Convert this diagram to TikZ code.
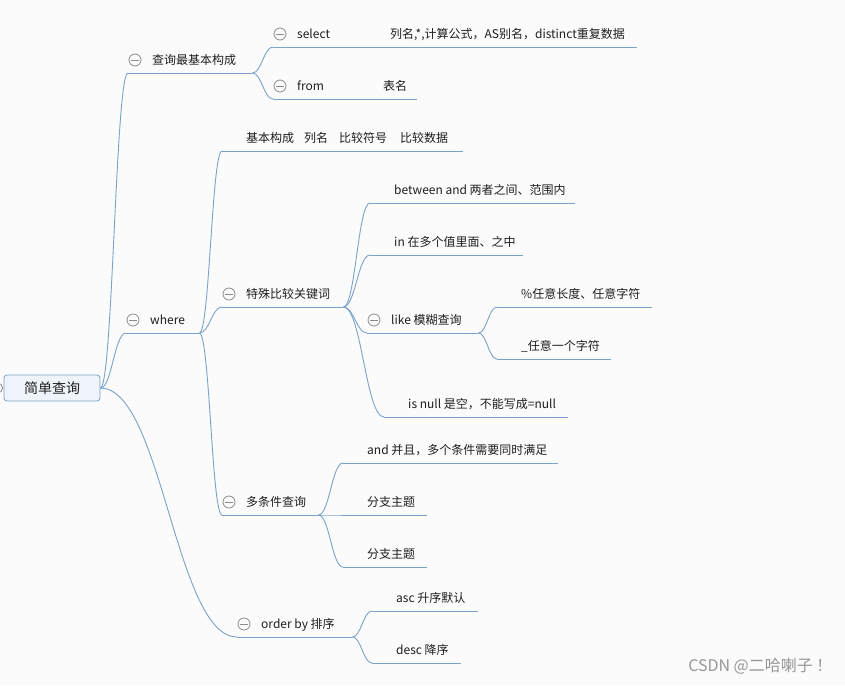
\documentclass[tikz,border=0pt]{standalone}
\usepackage{fontspec}
\setmainfont{Noto Sans CJK SC}
\usetikzlibrary{calc}

\definecolor{bgcol}{RGB}{251,251,251}
\definecolor{linecol}{RGB}{122,163,201}
\definecolor{iconcol}{RGB}{140,140,140}
\definecolor{rootfill}{RGB}{238,244,249}
\definecolor{rootline}{RGB}{122,160,196}
\definecolor{txtcol}{RGB}{30,30,30}
\definecolor{wmcol}{RGB}{150,150,150}

% topic text: fixed width, text starts after the icon gap
\newcommand{\tpc}[2]{\makebox[#1][l]{\hspace*{24pt}#2}}

\tikzset{
  topic/.style={anchor=south west, inner xsep=0pt, inner ysep=8.5pt, text depth=0pt,
    font=\fontsize{12pt}{14pt}\selectfont, text=txtcol},
  rootbox/.style={draw=rootline, fill=rootfill, rounded corners=3pt, line width=0.8pt,
    minimum width=96pt, minimum height=26pt, inner sep=0pt,
    font=\fontsize{14pt}{16pt}\selectfont, text=txtcol},
  uline/.style={draw=linecol, line width=0.9pt},
  branch/.style={draw=linecol, line width=0.9pt,
    to path={let \p1=(\tikztostart), \p2=(\tikztotarget), \n1={0.45*(\x2-\x1)} in
      .. controls +(\n1,0) and +(-\n1,0) .. (\tikztotarget)}},
  icon/.style={draw=iconcol, line width=0.8pt},
}

\begin{document}
\begin{tikzpicture}[x=1pt, y=-1pt]
    % Background and frame of the picture
    \useasboundingbox (0,0) rectangle (845,685);
    \fill[bgcol] (0,0) rectangle (845,685);
    \clip (0,0) rectangle (845,685);

    % Central topic
    \node[rootbox] (root) at (52,388) {简单查询};
    \draw[icon] ($(root.west)+(-6,0)$) circle (5);

    % First level
    \node[topic] (qc) at (128,73) {\tpc{124pt}{查询最基本构成}};
    \node[topic] (whr) at (126,333) {\tpc{73pt}{where}};
    \node[topic] (order) at (237,637) {\tpc{115pt}{order by 排序}};

    % Basic parts of a query
    \node[topic] (sel) at (273,47) {\tpc{364pt}{\makebox[93pt][l]{select}列名,*,计算公式，AS别名，distinct重复数据}};
    \node[topic] (frm) at (273,99) {\tpc{144pt}{\makebox[86pt][l]{from}表名}};

    % Children of where
    \node[topic] (basic) at (222,151) {\tpc{241pt}{基本构成\hspace{10pt}列名\hspace{11pt}比较符号\hspace{13pt}比较数据}};
    \node[topic] (spec) at (222,307) {\tpc{121pt}{特殊比较关键词}};
    \node[topic] (multi) at (222,515) {\tpc{96pt}{多条件查询}};

    % Special keywords
    \node[topic] (btw) at (370,203) {\tpc{205pt}{between and 两者之间、范围内}};
    \node[topic] (inn) at (370,255) {\tpc{153pt}{in 在多个值里面、之中}};
    \node[topic] (like) at (367,333) {\tpc{111pt}{like 模糊查询}};
    \node[topic] (isn) at (384,417) {\tpc{184pt}{is null 是空，不能写成=null}};
    \node[topic] (pct) at (497,307) {\tpc{155pt}{\%任意长度、任意字符}};
    \node[topic] (und) at (497,359) {\tpc{114pt}{\_任意一个字符}};

    % Several conditions
    \node[topic] (andn) at (343,463) {\tpc{215pt}{and 并且，多个条件需要同时满足}};
    \node[topic] (sub1) at (343,515) {\tpc{84pt}{分支主题}};
    \node[topic] (sub2) at (343,567) {\tpc{84pt}{分支主题}};

    % Sorting
    \node[topic] (asc) at (372,611) {\tpc{106pt}{asc 升序默认}};
    \node[topic] (desc) at (372,663) {\tpc{89pt}{desc 降序}};

    % Underlines below the topics
    \foreach \n in {qc,whr,order,sel,frm,basic,spec,multi,btw,inn,like,isn,pct,und,andn,sub1,sub2,asc,desc}
        \draw[uline] (\n.south west) -- (\n.south east);

    % Collapse icons
    \foreach \n in {qc,whr,order,sel,frm,spec,like,multi} {
        \draw[icon] ($(\n.south west)+(7,-13)$) circle (6);
        \draw[icon] ($(\n.south west)+(3,-13)$) -- ($(\n.south west)+(11,-13)$);
    }

    % Curved connectors
    \draw[branch] (root.east) to (qc.south west);
    \draw[branch] (root.east) to (whr.south west);
    \draw[branch] (root.east) to (order.south west);
    \draw[branch] (qc.south east) to (sel.south west);
    \draw[branch] (qc.south east) to (frm.south west);
    \draw[branch] (whr.south east) to (basic.south west);
    \draw[branch] (whr.south east) to (spec.south west);
    \draw[branch] (whr.south east) to (multi.south west);
    \draw[branch] (spec.south east) to (btw.south west);
    \draw[branch] (spec.south east) to (inn.south west);
    \draw[branch] (spec.south east) to (like.south west);
    \draw[branch] (spec.south east) to (isn.south west);
    \draw[branch] (like.south east) to (pct.south west);
    \draw[branch] (like.south east) to (und.south west);
    \draw[branch] (multi.south east) to (andn.south west);
    \draw[branch] (multi.south east) to (sub1.south west);
    \draw[branch] (multi.south east) to (sub2.south west);
    \draw[branch] (order.south east) to (asc.south west);
    \draw[branch] (order.south east) to (desc.south west);

    % Watermark
    \node[anchor=east, text=wmcol, font=\fontsize{16pt}{18pt}\selectfont] (wm) at (836,666) {CSDN @二哈喇子 ！};
\end{tikzpicture}
\end{document}
